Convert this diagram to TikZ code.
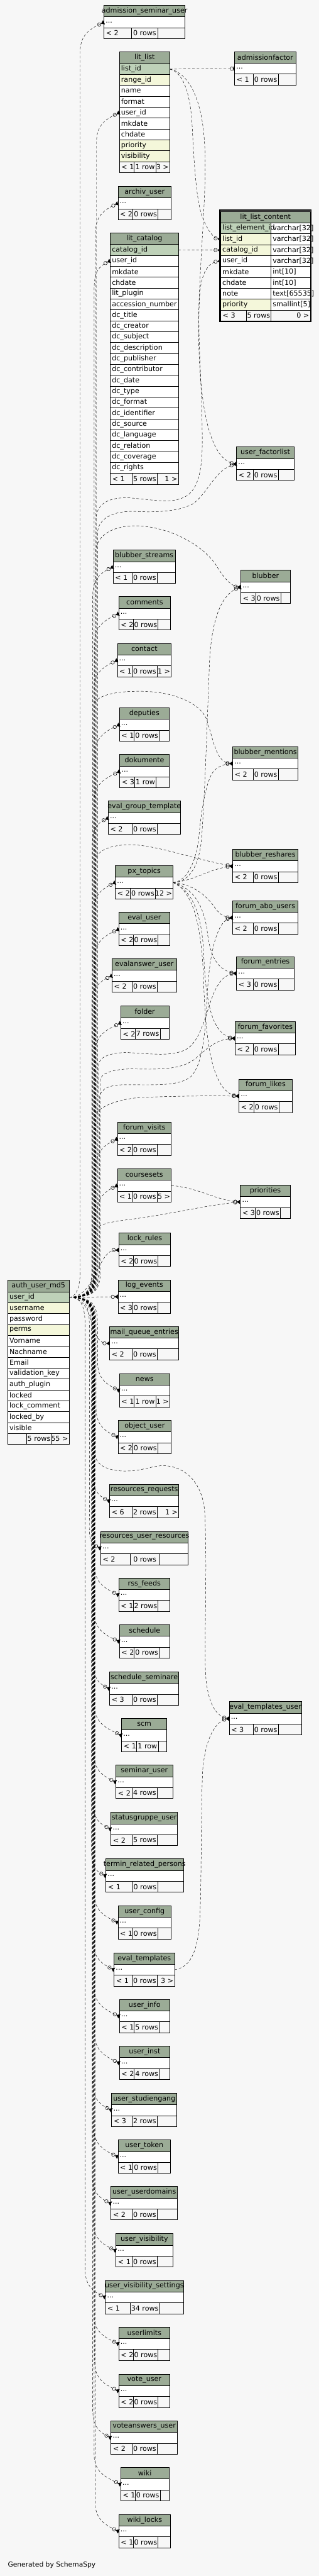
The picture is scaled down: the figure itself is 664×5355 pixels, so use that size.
\documentclass[tikz,border=0pt]{standalone}
\usepackage{fontspec}
\setmainfont{DejaVu Sans}
\usepackage{tikz}
\usetikzlibrary{arrows.meta,calc,backgrounds}
\usepackage{xcolor}
\definecolor{sspage}{HTML}{F7F7F7}
\definecolor{sshead}{HTML}{9BAB96}
\definecolor{sskey}{HTML}{BED1B8}
\definecolor{ssindex}{HTML}{F4F7DA}

\newcommand{\cellfont}{\fontsize{10.9}{13}\selectfont}
\newlength{\hdrw}

\tikzset{
  headbox/.style={draw, fill=sshead, line width=0.7pt, inner sep=0pt, outer sep=0pt, minimum height=18pt},
  rowbox/.style={draw, fill=white, line width=0.7pt, inner sep=0pt, outer sep=0pt, minimum height=16.99pt},
  footbox/.style={draw, fill=sspage, line width=0.7pt, inner sep=0pt, outer sep=0pt, minimum height=16.99pt},
  celltext/.style={inner sep=0pt, font=\cellfont},
  fk/.style={line width=0.45pt, dash pattern=on 4pt off 3pt,
    -{Circle[open,length=6pt,width=6pt,line width=0.55pt] Triangle[reversed,length=5pt,width=7pt]}},
  fkone/.style={line width=0.45pt, dash pattern=on 4pt off 3pt,
    -{Circle[open,length=6pt,width=6pt,line width=0.55pt] Bar[width=7pt,line width=1.4pt]}},
}

% table header: name, x left, y top, x right
\newcommand{\tblhead}[4]{%
  \pgfmathsetmacro{\tw}{0.75*(#4-#2)}%
  \node[headbox, minimum width=\tw pt, anchor=north west] (#1) at (#2,#3) {};%
  \settowidth{\hdrw}{\cellfont\detokenize{#1}}%
  \ifdim\hdrw>\dimexpr\tw pt-7.5pt\relax
    \node[celltext, anchor=west] (#1-t) at ([xshift=3.75pt]#1.west) {\detokenize{#1}};%
  \else
    \node[celltext] (#1-t) at (#1.center) {\detokenize{#1}};%
  \fi}

% footer: name, x left, y top, x right, divider 1, divider 2, texts
\newcommand{\tblfoot}[9]{%
  \pgfmathsetmacro{\tw}{0.75*(#4-#2)}%
  \node[footbox, minimum width=\tw pt, anchor=north west] (#1-f) at (#2,#3) {};%
  \draw[line width=0.7pt] (#5,#3) -- (#5,#3+22.65) (#6,#3) -- (#6,#3+22.65);%
  \node[celltext, anchor=west] (#1-fl) at ([xshift=3pt]#1-f.west) {#7};%
  \node[celltext] (#1-fm) at ({(#5+#6)/2},#3+11.3) {#8};%
  \node[celltext, anchor=east] (#1-fr) at ([xshift=-1.5pt]#1-f.east) {#9};}

% collapsed table
\newcommand{\smalltbl}[9]{%
  \tblhead{#1}{#2}{#3}{#4}%
  \node[rowbox, minimum width=\tw pt, anchor=north west] (#1-r) at (#2,#3+24) {};%
  \node[celltext, anchor=west] (#1-rt) at ([xshift=2.5pt]#1-r.west) {...};%
  \tblfoot{#1}{#2}{#3+46.65}{#4}{#5}{#6}{#7}{#8}{#9}}

% one column row: table, x left, y top, x right, column, fill
\newcommand{\colrow}[6]{%
  \pgfmathsetmacro{\tw}{0.75*(#4-#2)}%
  \node[rowbox, fill=#6, minimum width=\tw pt, anchor=north west] (#1-#5) at (#2,#3) {};%
  \node[celltext, anchor=west] (#1-#5-t) at ([xshift=2.5pt]#1-#5.west) {\detokenize\expandafter{#5}};}

% auth_user_md5.user_id to a row above / below / nearby
\newcommand{\fkup}[2]{%
  \draw[fk] let \p1=(#1.west) in (auth_user_md5-user_id.east) .. controls (#2-12,2696.6) and (#2,2684) .. (#2,2640)
    -- (#2*0.75pt,\y1-45pt) .. controls (#2*0.75pt,\y1-18pt) and (\x1-19pt,\y1-9pt) .. (#1.west);}
\newcommand{\fkdown}[2]{%
  \draw[fk] let \p1=(#1.west) in (auth_user_md5-user_id.east) .. controls (#2-12,2696.6) and (#2,2709) .. (#2,2753)
    -- (#2*0.75pt,\y1+45pt) .. controls (#2*0.75pt,\y1+18pt) and (\x1-19pt,\y1+9pt) .. (#1.west);}
\newcommand{\fknear}[2]{%
  \draw[fk] (auth_user_md5-user_id.east) .. controls (#2,2696.6) and ($(#1.west)+(-45,0)$) .. (#1.west);}

\begin{document}
\begin{tikzpicture}[x=0.75pt,y=-0.75pt]
\useasboundingbox (0,0) rectangle (664,5355);

% lit_list
\tblhead{lit_list}{248.6}{108.3}{353.6}
\foreach \c/\f [count=\i from 0] in {list_id/sskey,range_id/ssindex,name/white,format/white,user_id/white,mkdate/white,chdate/white,priority/ssindex,visibility/ssindex}
  {\colrow{lit_list}{248.6}{132.3+\i*22.65}{353.6}{\c}{\f}}
\tblfoot{lit_list}{248.6}{336.15}{353.6}{279.5}{324.4}{< 1}{1 row}{3 >}

% lit_catalog
\tblhead{lit_catalog}{229.5}{484.3}{371.4}
\foreach \c/\f [count=\i from 0] in {catalog_id/sskey,user_id/white,mkdate/white,chdate/white,lit_plugin/white,accession_number/white,dc_title/white,dc_creator/white,dc_subject/white,dc_description/white,dc_publisher/white,dc_contributor/white,dc_date/white,dc_type/white,dc_format/white,dc_identifier/white,dc_source/white,dc_language/white,dc_relation/white,dc_coverage/white,dc_rights/white}
  {\colrow{lit_catalog}{229.5}{508.3+\i*22.65}{371.4}{\c}{\f}}
\tblfoot{lit_catalog}{229.5}{983.95}{371.4}{275.3}{327.3}{< 1}{5 rows}{1 >}

% lit_list_content
\draw[line width=1.6pt] (457.6,436.6) rectangle (647.7,668.2);
\tblhead{lit_list_content}{459.5}{439.3}{645.8}
\foreach \c/\f/\d [count=\i from 0] in {list_element_id/sskey/varchar[32],list_id/ssindex/varchar[32],catalog_id/ssindex/varchar[32],user_id/white/varchar[32],mkdate/white/int[10],chdate/white/int[10],note/white/text[65535],priority/ssindex/smallint[5]}
  {\node[rowbox, minimum width=60.98pt, anchor=north west] (lit_list_content-\c-type) at (564.5,463.3+\i*22.65) {};
   \colrow{lit_list_content}{459.5}{463.3+\i*22.65}{564.5}{\c}{\f}
   \node[celltext, anchor=west] (lit_list_content-\c-tt) at ([xshift=2.25pt]lit_list_content-\c-type.west) {\d};}
\tblfoot{lit_list_content}{459.5}{644.5}{645.8}{512.4}{564.5}{< 3}{5 rows}{0 >}

% auth_user_md5
\tblhead{auth_user_md5}{16.1}{2661.3}{144}
\foreach \c/\f [count=\i from 0] in {user_id/sskey,username/ssindex,password/white,perms/ssindex,Vorname/white,Nachname/white,Email/white,validation_key/white,auth_plugin/white,locked/white,lock_comment/white,locked_by/white,visible/white}
  {\colrow{auth_user_md5}{16.1}{2685.3+\i*22.65}{144}{\c}{\f}}
\tblfoot{auth_user_md5}{16.1}{2979.75}{144}{55}{107.1}{}{5 rows}{55 >}

% collapsed tables
\smalltbl{admission_seminar_user}{216.4}{11}{385.4}{273.6}{329}{< 2}{0 rows}{}
\smalltbl{admissionfactor}{488.3}{107.3}{616.2}{527.2}{579.3}{< 1}{0 rows}{}
\smalltbl{archiv_user}{245.6}{387.3}{356.6}{276.5}{329}{< 2}{0 rows}{}
\smalltbl{user_factorlist}{492.5}{929.3}{612.3}{527.2}{579.3}{< 2}{0 rows}{}
\smalltbl{blubber_streams}{235.5}{1143.3}{365}{275.3}{327.3}{< 1}{0 rows}{}
\smalltbl{blubber}{501.4}{1185.3}{604.3}{532.3}{584.4}{< 3}{0 rows}{}
\smalltbl{comments}{247.3}{1240.3}{355.3}{277.4}{329}{< 2}{0 rows}{}
\smalltbl{contact}{244.3}{1337.3}{356.6}{275.3}{327.3}{< 1}{0 rows}{1 >}
\smalltbl{deputies}{248.6}{1471.3}{352.3}{279.5}{331.6}{< 1}{0 rows}{}
\smalltbl{dokumente}{249.4}{1568.3}{352.3}{280.3}{325.2}{< 3}{1 row}{}
\smalltbl{blubber_mentions}{484.5}{1552}{620.4}{527.2}{579.3}{< 2}{0 rows}{}
\smalltbl{eval_group_template}{225.3}{1665.3}{375.6}{275.3}{327.3}{< 2}{0 rows}{}
\smalltbl{blubber_reshares}{484.5}{1765.3}{620.4}{527.2}{579.3}{< 2}{0 rows}{}
\smalltbl{px_topics}{240.1}{1799.3}{360.4}{271.4}{323.5}{< 2}{0 rows}{12 >}
\smalltbl{eval_user}{247.3}{1896.3}{353.6}{277.4}{329}{< 2}{0 rows}{}
\smalltbl{forum_abo_users}{484.5}{1872.3}{620.4}{527.2}{579.3}{< 2}{0 rows}{}
\smalltbl{evalanswer_user}{233.3}{1993}{367.6}{275.3}{327.3}{< 2}{0 rows}{}
\smalltbl{forum_entries}{492.5}{1988.3}{612.3}{527.2}{579.3}{< 3}{0 rows}{}
\smalltbl{folder}{251.5}{2091.3}{351.5}{281.6}{333.3}{< 2}{7 rows}{}
\smalltbl{forum_favorites}{489.5}{2123.3}{615.3}{527.2}{579.3}{< 2}{0 rows}{}
\smalltbl{forum_likes}{497.6}{2243.3}{608.5}{528.5}{580.6}{< 2}{0 rows}{}
\smalltbl{forum_visits}{244.3}{2332.3}{356.6}{275.3}{327.3}{< 2}{0 rows}{}
\smalltbl{coursesets}{244.3}{2429.3}{356.6}{275.3}{327.3}{< 1}{0 rows}{5 >}
\smalltbl{priorities}{500.5}{2463.3}{604.3}{531.5}{583.5}{< 3}{0 rows}{}
\smalltbl{lock_rules}{247.3}{2563.3}{355.3}{277.4}{329}{< 2}{0 rows}{}
\smalltbl{log_events}{245.6}{2660.3}{355.3}{276.5}{328.2}{< 3}{0 rows}{}
\smalltbl{mail_queue_entries}{228.3}{2757.3}{372.2}{275.3}{327.3}{< 2}{0 rows}{}
\smalltbl{news}{248.6}{2855.3}{353.6}{279.5}{324.4}{< 1}{1 row}{1 >}
\smalltbl{object_user}{245.6}{2952.3}{356.6}{276.5}{328.2}{< 2}{0 rows}{}
\smalltbl{resources_requests}{228.3}{3085.3}{372.2}{275.3}{327.3}{< 6}{2 rows}{1 >}
\smalltbl{resources_user_resources}{209.6}{3183.3}{391.7}{271.4}{331.6}{< 2}{0 rows}{}
\smalltbl{rss_feeds}{247.3}{3280.3}{353.6}{277.4}{329}{< 1}{2 rows}{}
\smalltbl{schedule}{248.6}{3377.3}{353.6}{279.5}{331.6}{< 2}{0 rows}{}
\smalltbl{schedule_seminare}{228.3}{3475.3}{372.2}{275.3}{327.3}{< 3}{0 rows}{}
\smalltbl{eval_templates_user}{477.3}{3537.3}{627.6}{527.2}{579.3}{< 3}{0 rows}{}
\smalltbl{scm}{253.2}{3572.3}{347.3}{284.6}{329.5}{< 1}{1 row}{}
\smalltbl{seminar_user}{241.4}{3669.3}{359.5}{275.3}{327.3}{< 2}{4 rows}{}
\smalltbl{statusgruppe_user}{231.2}{3767.3}{369.3}{275.3}{327.3}{< 2}{5 rows}{}
\smalltbl{termin_related_persons}{220.6}{3864.3}{381.6}{275.3}{328.2}{< 1}{0 rows}{}
\smalltbl{user_config}{245.6}{3961.3}{356.6}{276.5}{328.2}{< 1}{0 rows}{}
\smalltbl{eval_templates}{237.6}{4059.3}{363.3}{275.3}{327.3}{< 1}{0 rows}{3 >}
\smalltbl{user_info}{248.6}{4156.3}{353.6}{279.5}{331.6}{< 1}{5 rows}{}
\smalltbl{user_inst}{248.6}{4253.3}{353.6}{279.5}{331.6}{< 2}{4 rows}{}
\smalltbl{user_studiengang}{232.5}{4351.3}{368.4}{275.3}{327.3}{< 3}{2 rows}{}
\smalltbl{user_token}{245.6}{4448.3}{355.3}{276.5}{329}{< 1}{0 rows}{}
\smalltbl{user_userdomains}{231.2}{4545.3}{369.3}{275.3}{327.3}{< 2}{0 rows}{}
\smalltbl{user_visibility}{241.4}{4643.3}{359.5}{275.3}{327.3}{< 1}{0 rows}{}
\smalltbl{user_visibility_settings}{219.4}{4740.3}{381.6}{271.4}{331.6}{< 1}{34 rows}{}
\smalltbl{userlimits}{247.3}{4837.3}{353.6}{277.4}{329}{< 2}{0 rows}{}
\smalltbl{vote_user}{247.3}{4935.3}{353.6}{277.4}{329}{< 2}{0 rows}{}
\smalltbl{voteanswers_user}{231.2}{5032.3}{369.3}{275.3}{327.3}{< 2}{0 rows}{}
\smalltbl{wiki}{251.5}{5129.3}{351.5}{281.6}{333.3}{< 1}{0 rows}{}
\smalltbl{wiki_locks}{247.3}{5227}{355.3}{277.4}{329}{< 1}{0 rows}{}

\node[celltext, anchor=west, font=\fontsize{10.5}{12}\selectfont] (credit) at (16.1,5331.7) {Generated by SchemaSpy};

% lit_list, lit_catalog relations
\draw[fkone] (lit_list-list_id.east) -- (admissionfactor-r.west);
\draw[fk] (lit_list-list_id.east) .. controls (380,150) and (396,190) .. (400,260) .. controls (405,360) and (410,430) .. (425,460) .. controls (435,482) and (445,495) .. (lit_list_content-list_id.west);
\draw[fk] (lit_list-list_id.east) .. controls (385,150) and (420,190) .. (426,300) .. controls (432,420) and (410,580) .. (414,720) .. controls (418,860) and (440,955) .. (user_factorlist-r.west);
\draw[fk] (lit_catalog-catalog_id.east) -- (lit_list_content-catalog_id.west);

% px_topics, coursesets, eval_templates relations
\draw[fk] (px_topics-r.east) .. controls (395,1833) and (415,1800) .. (420,1740) .. controls (428,1620) and (432,1480) .. (436,1380) .. controls (440,1290) and (460,1235) .. (blubber-r.west);
\draw[fk] (px_topics-r.east) .. controls (390,1832) and (410,1790) .. (415,1730) .. controls (420,1680) and (430,1620) .. (445,1603) .. controls (455,1592) and (470,1588) .. (blubber_mentions-r.west);
\draw[fk] (px_topics-r.east) .. controls (400,1832) and (440,1805) .. (blubber_reshares-r.west);
\draw[fk] (px_topics-r.east) .. controls (400,1838) and (430,1860) .. (448,1888) .. controls (458,1902) and (470,1907) .. (forum_abo_users-r.west);
\draw[fk] (px_topics-r.east) .. controls (400,1845) and (425,1880) .. (432,1940) .. controls (438,1990) and (455,2018) .. (forum_entries-r.west);
\draw[fk] (px_topics-r.east) .. controls (400,1850) and (420,1900) .. (424,1980) .. controls (428,2080) and (440,2150) .. (forum_favorites-r.west);
\draw[fk] (px_topics-r.east) .. controls (405,1855) and (420,1930) .. (424,2040) .. controls (428,2160) and (440,2270) .. (forum_likes-r.west);
\draw[fk] (coursesets-r.east) .. controls (410,2468) and (450,2495) .. (priorities-r.west);
\draw[fk] (eval_templates-r.east) .. controls (395,4090) and (412,4060) .. (416,3990) .. controls (420,3900) and (418,3760) .. (422,3680) .. controls (428,3610) and (450,3578) .. (eval_templates_user-r.west);

% auth_user_md5 relations, right column
\draw[fk] (auth_user_md5-user_id.east) .. controls (188,2696.6) and (200,2684) .. (200,2640) -- (200,1080) .. controls (200,1045) and (230,1033) .. (270,1035) .. controls (330,1040) and (360,1048) .. (390,1030) .. controls (418,1010) and (422,960) .. (421,900) .. controls (420,780) and (410,690) .. (416,610) .. controls (420,560) and (438,545) .. (lit_list_content-user_id.west);
\draw[fk] (auth_user_md5-user_id.east) .. controls (191,2696.6) and (203,2684) .. (203,2640) -- (203,1110) .. controls (203,1075) and (240,1062) .. (280,1063) .. controls (330,1066) and (380,1062) .. (405,1045) .. controls (435,1020) and (450,975) .. (user_factorlist-r.west);
\draw[fk] (auth_user_md5-user_id.east) .. controls (187,2696.6) and (199,2684) .. (199,2640) -- (199,1150) .. controls (199,1110) and (240,1092) .. (285,1093) .. controls (350,1095) and (420,1130) .. (450,1175) .. controls (465,1200) and (480,1218) .. (blubber-r.west);
\draw[fk] (auth_user_md5-user_id.east) .. controls (183,2696.6) and (195,2684) .. (195,2640) -- (195,1470) .. controls (195,1445) and (240,1437) .. (290,1437) .. controls (360,1437) and (415,1460) .. (430,1495) .. controls (445,1540) and (450,1585) .. (blubber_mentions-r.west);
\draw[fk] (auth_user_md5-user_id.east) .. controls (187,2696.6) and (199,2684) .. (199,2640) -- (199,1790) .. controls (199,1765) and (240,1755) .. (275,1756) .. controls (330,1758) and (400,1785) .. (blubber_reshares-r.west);
\draw[fk] (auth_user_md5-user_id.east) .. controls (195,2696.6) and (207,2684) .. (207,2640) -- (207,2285) .. controls (207,2262) and (230,2255) .. (260,2255) .. controls (320,2255) and (370,2258) .. (395,2240) .. controls (425,2215) and (428,2130) .. (432,2060) .. controls (436,1990) and (450,1915) .. (forum_abo_users-r.west);
\draw[fk] (auth_user_md5-user_id.east) .. controls (193,2696.6) and (205,2684) .. (205,2640) -- (205,2215) .. controls (205,2195) and (235,2188) .. (265,2188) .. controls (310,2190) and (360,2198) .. (390,2180) .. controls (420,2160) and (430,2100) .. (445,2065) .. controls (455,2040) and (470,2025) .. (forum_entries-r.west);
\draw[fk] (auth_user_md5-user_id.east) .. controls (197,2696.6) and (209,2684) .. (209,2640) -- (209,2245) .. controls (209,2230) and (240,2222) .. (275,2222) .. controls (330,2223) and (380,2225) .. (410,2198) .. controls (435,2175) and (455,2160) .. (forum_favorites-r.west);
\draw[fk] (auth_user_md5-user_id.east) .. controls (187,2696.6) and (199,2684) .. (199,2640) -- (199,2318) .. controls (205,2300) and (250,2283) .. (300,2281) .. controls (380,2278) and (440,2278) .. (forum_likes-r.west);
\draw[fk] (auth_user_md5-user_id.east) .. controls (187,2696.6) and (199,2684) .. (199,2640) -- (199,2560) .. controls (199,2545) and (230,2540) .. (270,2535) .. controls (350,2525) and (430,2505) .. (priorities-r.west);
\draw[fk] (auth_user_md5-user_id.east) .. controls (187,2696.6) and (199,2709) .. (199,2753) -- (199,3025) .. controls (199,3045) and (225,3058) .. (260,3058) .. controls (300,3058) and (320,3045) .. (345,3047) .. controls (385,3050) and (420,3080) .. (426,3140) .. controls (432,3250) and (425,3400) .. (428,3480) .. controls (432,3540) and (450,3568) .. (eval_templates_user-r.west);

% auth_user_md5 relations, middle column
\fkup{admission_seminar_user-r}{167}
\fkup{lit_list-user_id}{201}
\fkup{archiv_user-r}{199}
\fkup{lit_catalog-user_id}{196}
\fkup{blubber_streams-r}{193}
\fkup{comments-r}{197}
\fkup{contact-r}{195}
\fkup{deputies-r}{198}
\fkup{dokumente-r}{196}
\fkup{eval_group_template-r}{192}
\fkup{px_topics-r}{195}
\fkup{eval_user-r}{197}
\fkup{evalanswer_user-r}{191}
\fkup{folder-r}{198}
\fkup{forum_visits-r}{200}
\fkup{coursesets-r}{202}
\fknear{lock_rules-r}{200}
\draw[fk] (auth_user_md5-user_id.east) -- (log_events-r.west);
\fknear{mail_queue_entries-r}{200}
\fkdown{news-r}{203}
\fkdown{object_user-r}{200}
\fkdown{resources_requests-r}{193}
\fkdown{resources_user_resources-r}{186}
\fkdown{rss_feeds-r}{197}
\fkdown{schedule-r}{196}
\fkdown{schedule_seminare-r}{194}
\fkdown{scm-r}{197}
\fkdown{seminar_user-r}{195}
\fkdown{statusgruppe_user-r}{193}
\fkdown{termin_related_persons-r}{190}
\fkdown{user_config-r}{196}
\fkdown{eval_templates-r}{194}
\fkdown{user_info-r}{196}
\fkdown{user_inst-r}{197}
\fkdown{user_studiengang-r}{193}
\fkdown{user_token-r}{195}
\fkdown{user_userdomains-r}{192}
\fkdown{user_visibility-r}{194}
\fkdown{user_visibility_settings-r}{177}
\fkdown{userlimits-r}{195}
\fkdown{vote_user-r}{197}
\fkdown{voteanswers_user-r}{193}
\fkdown{wiki-r}{196}
\fkdown{wiki_locks-r}{198}

\begin{scope}[on background layer]
  \fill[sspage] (0,0) rectangle (664,5355);
\end{scope}
\end{tikzpicture}
\end{document}
